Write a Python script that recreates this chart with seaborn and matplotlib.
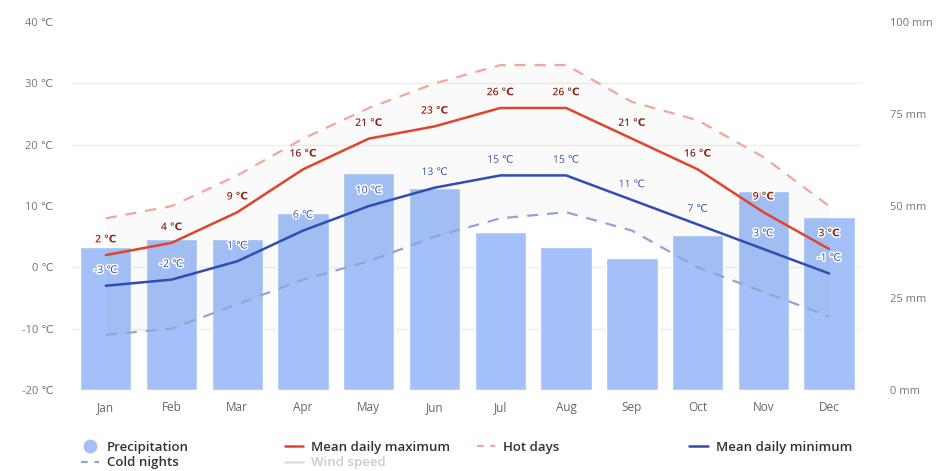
import numpy as np
import pandas as pd
import seaborn as sns
import matplotlib.pyplot as plt
from matplotlib.lines import Line2D
import matplotlib.patheffects as pe

# climate data
months = ["Jan", "Feb", "Mar", "Apr", "May", "Jun", "Jul", "Aug", "Sep", "Oct", "Nov", "Dec"]
precip_mm = [39, 41, 41, 48, 59, 55, 43, 39, 36, 42, 54, 47]
mean_max = [2, 4, 9, 16, 21, 23, 26, 26, 21, 16, 9, 3]
mean_min = [-3, -2, 1, 6, 10, 13, 15, 15, 11, 7, 3, -1]
hot_days = [8, 10, 15, 21, 26, 30, 33, 33, 27, 24, 18, 10]
cold_nights = [-11, -10, -6, -2, 1, 5, 8, 9, 6, 0, -4, -8]

temp_ticks = [-20, -10, 0, 10, 20, 30, 40]
mm_ticks = [0, 25, 50, 75, 100]

BAR = "#a3c1f8"
RED = "#e0452c"
BLUE = "#2f4db5"
HOT = "#f1a89a"
COLD = "#8ea6d6"

sns.set_style("white")
plt.rcParams["font.family"] = ["Open Sans", "DejaVu Sans"]

df = pd.DataFrame({
    "month": months, "precip": precip_mm, "max": mean_max,
    "min": mean_min, "hot": hot_days, "cold": cold_nights,
})

fig = plt.figure(figsize=(9.39, 4.71), dpi=100)
ax_p = fig.add_axes([0.0777, 0.172, 0.8403, 0.781])
ax_t = ax_p.twinx()

# precipitation bars (right axis, drawn underneath)
sns.barplot(data=df, x="month", y="precip", ax=ax_p, color=BAR,
            saturation=1, width=0.78, zorder=2)
ax_p.set_ylim(0, 100)
ax_p.set_xlim(-0.5, len(months) - 0.5)
ax_p.yaxis.tick_right()
ax_p.set_yticks(mm_ticks)
ax_p.set_yticklabels([f"{v} mm" for v in mm_ticks])
grid_mm = [(t - temp_ticks[0]) / (temp_ticks[-1] - temp_ticks[0]) * 100 for t in temp_ticks]
ax_p.set_yticks(grid_mm, minor=True)
ax_p.grid(axis="y", which="minor", color="#eeeeee", linewidth=1, zorder=0)
ax_p.grid(axis="y", which="major", visible=False)
ax_p.set_xlabel("")
ax_p.set_ylabel("")
ax_p.tick_params(axis="y", which="both", length=0, pad=20, labelsize=8, labelcolor="#777777")
ax_p.tick_params(axis="x", length=0, pad=8, labelsize=8.5, labelcolor="#666666")

# temperature lines (left axis)
x = np.arange(len(months))
ax_t.fill_between(x, cold_nights, hot_days, color="#888888", alpha=0.04, linewidth=0, zorder=1)
sns.lineplot(x=x, y=df["hot"], ax=ax_t, color=HOT, lw=1.6, linestyle="--", zorder=3)
sns.lineplot(x=x, y=df["cold"], ax=ax_t, color=COLD, lw=1.6, linestyle="--", zorder=3)
sns.lineplot(x=x, y=df["max"], ax=ax_t, color=RED, lw=1.8, zorder=4)
sns.lineplot(x=x, y=df["min"], ax=ax_t, color=BLUE, lw=1.8, zorder=4)
for line in ax_t.lines[:2]:
    line.set_dashes((5, 4))

ax_t.set_ylim(temp_ticks[0], temp_ticks[-1])
ax_t.set_xlim(-0.5, len(months) - 0.5)
ax_t.yaxis.tick_left()
ax_t.set_yticks(temp_ticks)
ax_t.set_yticklabels([f"{v} ℃" for v in temp_ticks])
ax_t.tick_params(axis="y", length=0, pad=14, labelsize=8, labelcolor="#777777")
ax_t.set_ylabel("")
ax_t.grid(False)

halo = [pe.withStroke(linewidth=2.2, foreground="white")]
for i in range(len(months)):
    ax_t.annotate(f"{mean_max[i]} ℃", (i, mean_max[i]), xytext=(0, 7), textcoords="offset points",
                  ha="center", va="bottom", fontsize=7.5, color="#8f2a1c", fontweight="semibold",
                  path_effects=halo, zorder=6)
    ax_t.annotate(f"{mean_min[i]} ℃", (i, mean_min[i]), xytext=(0, 7), textcoords="offset points",
                  ha="center", va="bottom", fontsize=7.5, color="#3550b0",
                  path_effects=halo, zorder=6)

for a in (ax_p, ax_t):
    for s in a.spines.values():
        s.set_visible(False)

# legend laid out in four fixed columns
cols = [
    ([Line2D([], [], marker="o", ls="none", color=BAR, markersize=9),
      Line2D([], [], color=COLD, lw=1.6, dashes=(3, 3))], ["Precipitation", "Cold nights"], 0.086),
    ([Line2D([], [], color=RED, lw=1.8),
      Line2D([], [], color="#dddddd", lw=1.8)], ["Mean daily maximum", "Wind speed"], 0.303),
    ([Line2D([], [], color=HOT, lw=1.6, dashes=(3, 3))], ["Hot days"], 0.508),
    ([Line2D([], [], color=BLUE, lw=1.8)], ["Mean daily minimum"], 0.734),
]
for handles, labels, xpos in cols:
    leg = fig.legend(handles, labels, loc="upper left", bbox_to_anchor=(xpos, 0.064),
                     frameon=False, fontsize=9.5, handlelength=1.4, handletextpad=0.6,
                     labelspacing=0.2, borderaxespad=0, borderpad=0)
    for t in leg.get_texts():
        t.set_fontweight("semibold")
        t.set_color("#cccccc" if t.get_text() == "Wind speed" else "#333333")

fig.savefig("out.png", dpi=100)
